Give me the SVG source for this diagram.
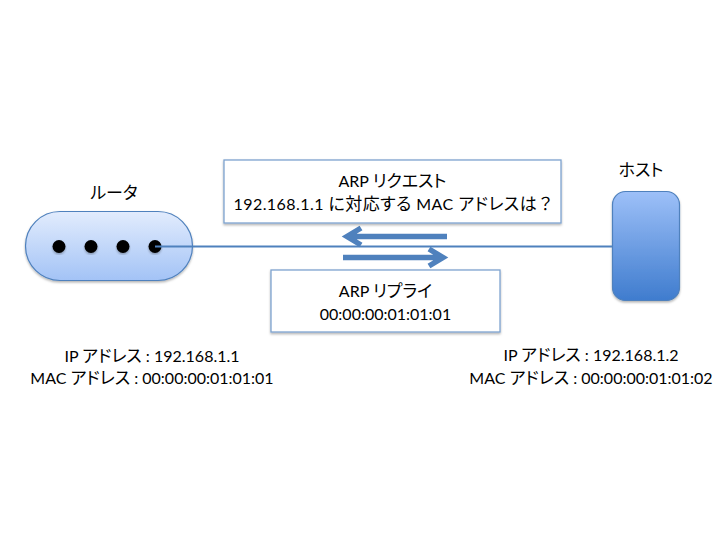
<svg xmlns="http://www.w3.org/2000/svg" width="720" height="540" viewBox="0 0 720 540">
<defs>
<linearGradient id="gr" x1="0" y1="0" x2="0" y2="1"><stop offset="0" stop-color="#e2ecfd"/><stop offset="1" stop-color="#a3c3f6"/></linearGradient>
<linearGradient id="gh" x1="0" y1="0" x2="0" y2="1"><stop offset="0" stop-color="#9dc0f8"/><stop offset="1" stop-color="#3f7cce"/></linearGradient>
<filter id="sh" x="-10%" y="-10%" width="120%" height="125%"><feDropShadow dx="0" dy="1.5" stdDeviation="1" flood-color="#000" flood-opacity="0.3"/></filter>
</defs>
<style>
text{font-family:Lato,"Noto Sans CJK JP",sans-serif;font-size:16px;fill:#000;text-anchor:middle}
.k{font-size:17px;font-feature-settings:"palt"}
.f{font-size:17px}
.wide{letter-spacing:0.45px}
.box{fill:#fff;stroke:#7ea3cf;stroke-width:1.3;filter:url(#sh)}
.shape{stroke:#4f81bd;stroke-width:1.2;filter:url(#sh)}
.dot{fill:#000;filter:url(#sh)}
.arrow{fill:none;stroke:#4f81bd;stroke-width:5.5}
.line{fill:none;stroke:#4f81bd;stroke-width:2.200}
</style>
<rect width="720" height="540" fill="#fff"/>
<g id="router">
<rect class="shape" x="25.500" y="211.500" width="167" height="69" rx="34.500" fill="url(#gr)"/>
<circle class="dot" cx="59" cy="246.500" r="6.500"/>
<circle class="dot" cx="91" cy="246.500" r="6.500"/>
<circle class="dot" cx="123" cy="246.500" r="6.500"/>
<circle class="dot" cx="155" cy="246.500" r="6.500"/>
<text x="114" y="199"><tspan class="k">ルータ</tspan></text>
<text x="152" y="362">IP <tspan class="k">アドレス</tspan> : 192.168.1.1</text>
<text x="152" y="384">MAC <tspan class="k">アドレス</tspan> : 00:00:00:01:01:01</text>
</g>
<g id="host">
<rect class="shape" x="612.500" y="191.500" width="67" height="109" rx="13" fill="url(#gh)"/>
<text x="641" y="176"><tspan class="k">ホスト</tspan></text>
<text x="591" y="361">IP <tspan class="k">アドレス</tspan> : 192.168.1.2</text>
<text x="591" y="384">MAC <tspan class="k">アドレス</tspan> : 00:00:00:01:01:02</text>
</g>
<g id="connectors">
<path class="line" d="M155 246.500H612"/>
<path class="arrow" d="M447 236.500H350M361 228L347 236.500L361 245"/>
<path class="arrow" d="M343 257.500H440M429 249L443 257.500L429 266"/>
</g>
<g id="request">
<rect class="box" x="224" y="160" width="337" height="63"/>
<text x="392.500" y="187">ARP <tspan class="k">リクエスト</tspan></text>
<text class="wide" x="394" y="210">192.168.1.1 <tspan class="k">に対応する</tspan> MAC <tspan class="k">アドレスは</tspan><tspan class="f">？</tspan></text>
</g>
<g id="reply">
<rect class="box" x="271" y="270" width="229" height="62"/>
<text x="385.500" y="297">ARP <tspan class="k">リプライ</tspan></text>
<text x="385.500" y="320">00:00:00:01:01:01</text>
</g>
</svg>
